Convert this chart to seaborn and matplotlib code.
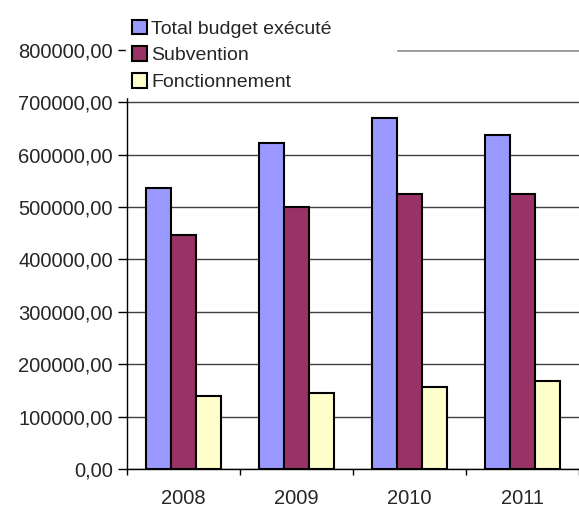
import pandas as pd
import matplotlib.pyplot as plt
import seaborn as sns
from matplotlib.ticker import FuncFormatter, FixedLocator

years = ['2008', '2009', '2010', '2011']
series = ['Total budget exécuté', 'Subvention', 'Fonctionnement']
total = [537000, 622000, 670000, 637000]
subvention = [447000, 501000, 525000, 525000]
fonctionnement = [140000, 145000, 156000, 168000]
colors = ['#9999FF', '#993366', '#FFFFCC']

df = pd.DataFrame({
    'year': years * 3,
    'serie': [s for s in series for _ in years],
    'value': total + subvention + fonctionnement,
})

sns.set_style('white')
plt.rcParams['font.family'] = ['Liberation Sans', 'DejaVu Sans']

fig = plt.figure(figsize=(5.79, 5.09), dpi=100)
ax = fig.add_axes([0.2188, 0.0786, 0.7812, 0.8232])

sns.barplot(data=df, x='year', y='value', hue='serie', palette=colors,
            width=0.66, gap=0, edgecolor='black', linewidth=1.5,
            saturation=1, ax=ax, zorder=3)

ax.set_xlim(-0.5, 3.5)
ax.set_ylim(0, 800000)
ax.set_yticks(range(0, 800001, 100000))
ax.yaxis.set_major_formatter(FuncFormatter(lambda v, p: f'{v:.2f}'.replace('.', ',')))
ax.grid(axis='y', color='#404040', linewidth=1, zorder=0)
ax.set_axisbelow(True)
ax.set_xlabel('')
ax.set_ylabel('')

# top gridline is lighter in the original
top_grid = ax.get_ygridlines()[-1]
top_grid.set_color('#9a9a9a')
top_grid.set_linewidth(2)
ax.yaxis.get_major_ticks()[-1].tick1line.set_visible(False)

ax.tick_params(axis='y', left=True, length=6.5, width=1, color='black', labelsize=14.5, pad=3.5)
ax.tick_params(axis='x', which='major', bottom=False, labelsize=14.5, pad=11)
ax.xaxis.set_minor_locator(FixedLocator([-0.5, 0.5, 1.5, 2.5, 3.5]))
ax.tick_params(axis='x', which='minor', bottom=True, length=4.5, width=1, color='black')

for side in ['top', 'right']:
    ax.spines[side].set_visible(False)
for side in ['left', 'bottom']:
    ax.spines[side].set_color('black')
    ax.spines[side].set_linewidth(1)

leg = ax.legend(loc='upper left', bbox_to_anchor=(0.2176, 0.0, 0.466, 0.973),
                bbox_transform=fig.transFigure, mode='expand',
                frameon=True, fancybox=False, edgecolor='white', facecolor='white', framealpha=1,
                fontsize=14, handlelength=0.8, handleheight=0.8, handletextpad=0.2,
                labelspacing=0.43, borderpad=0.3, borderaxespad=0)
for h in leg.legend_handles:
    h.set_edgecolor('black')
    h.set_linewidth(1.5)
leg.set_zorder(10)

plt.savefig('out.png', dpi=100)
